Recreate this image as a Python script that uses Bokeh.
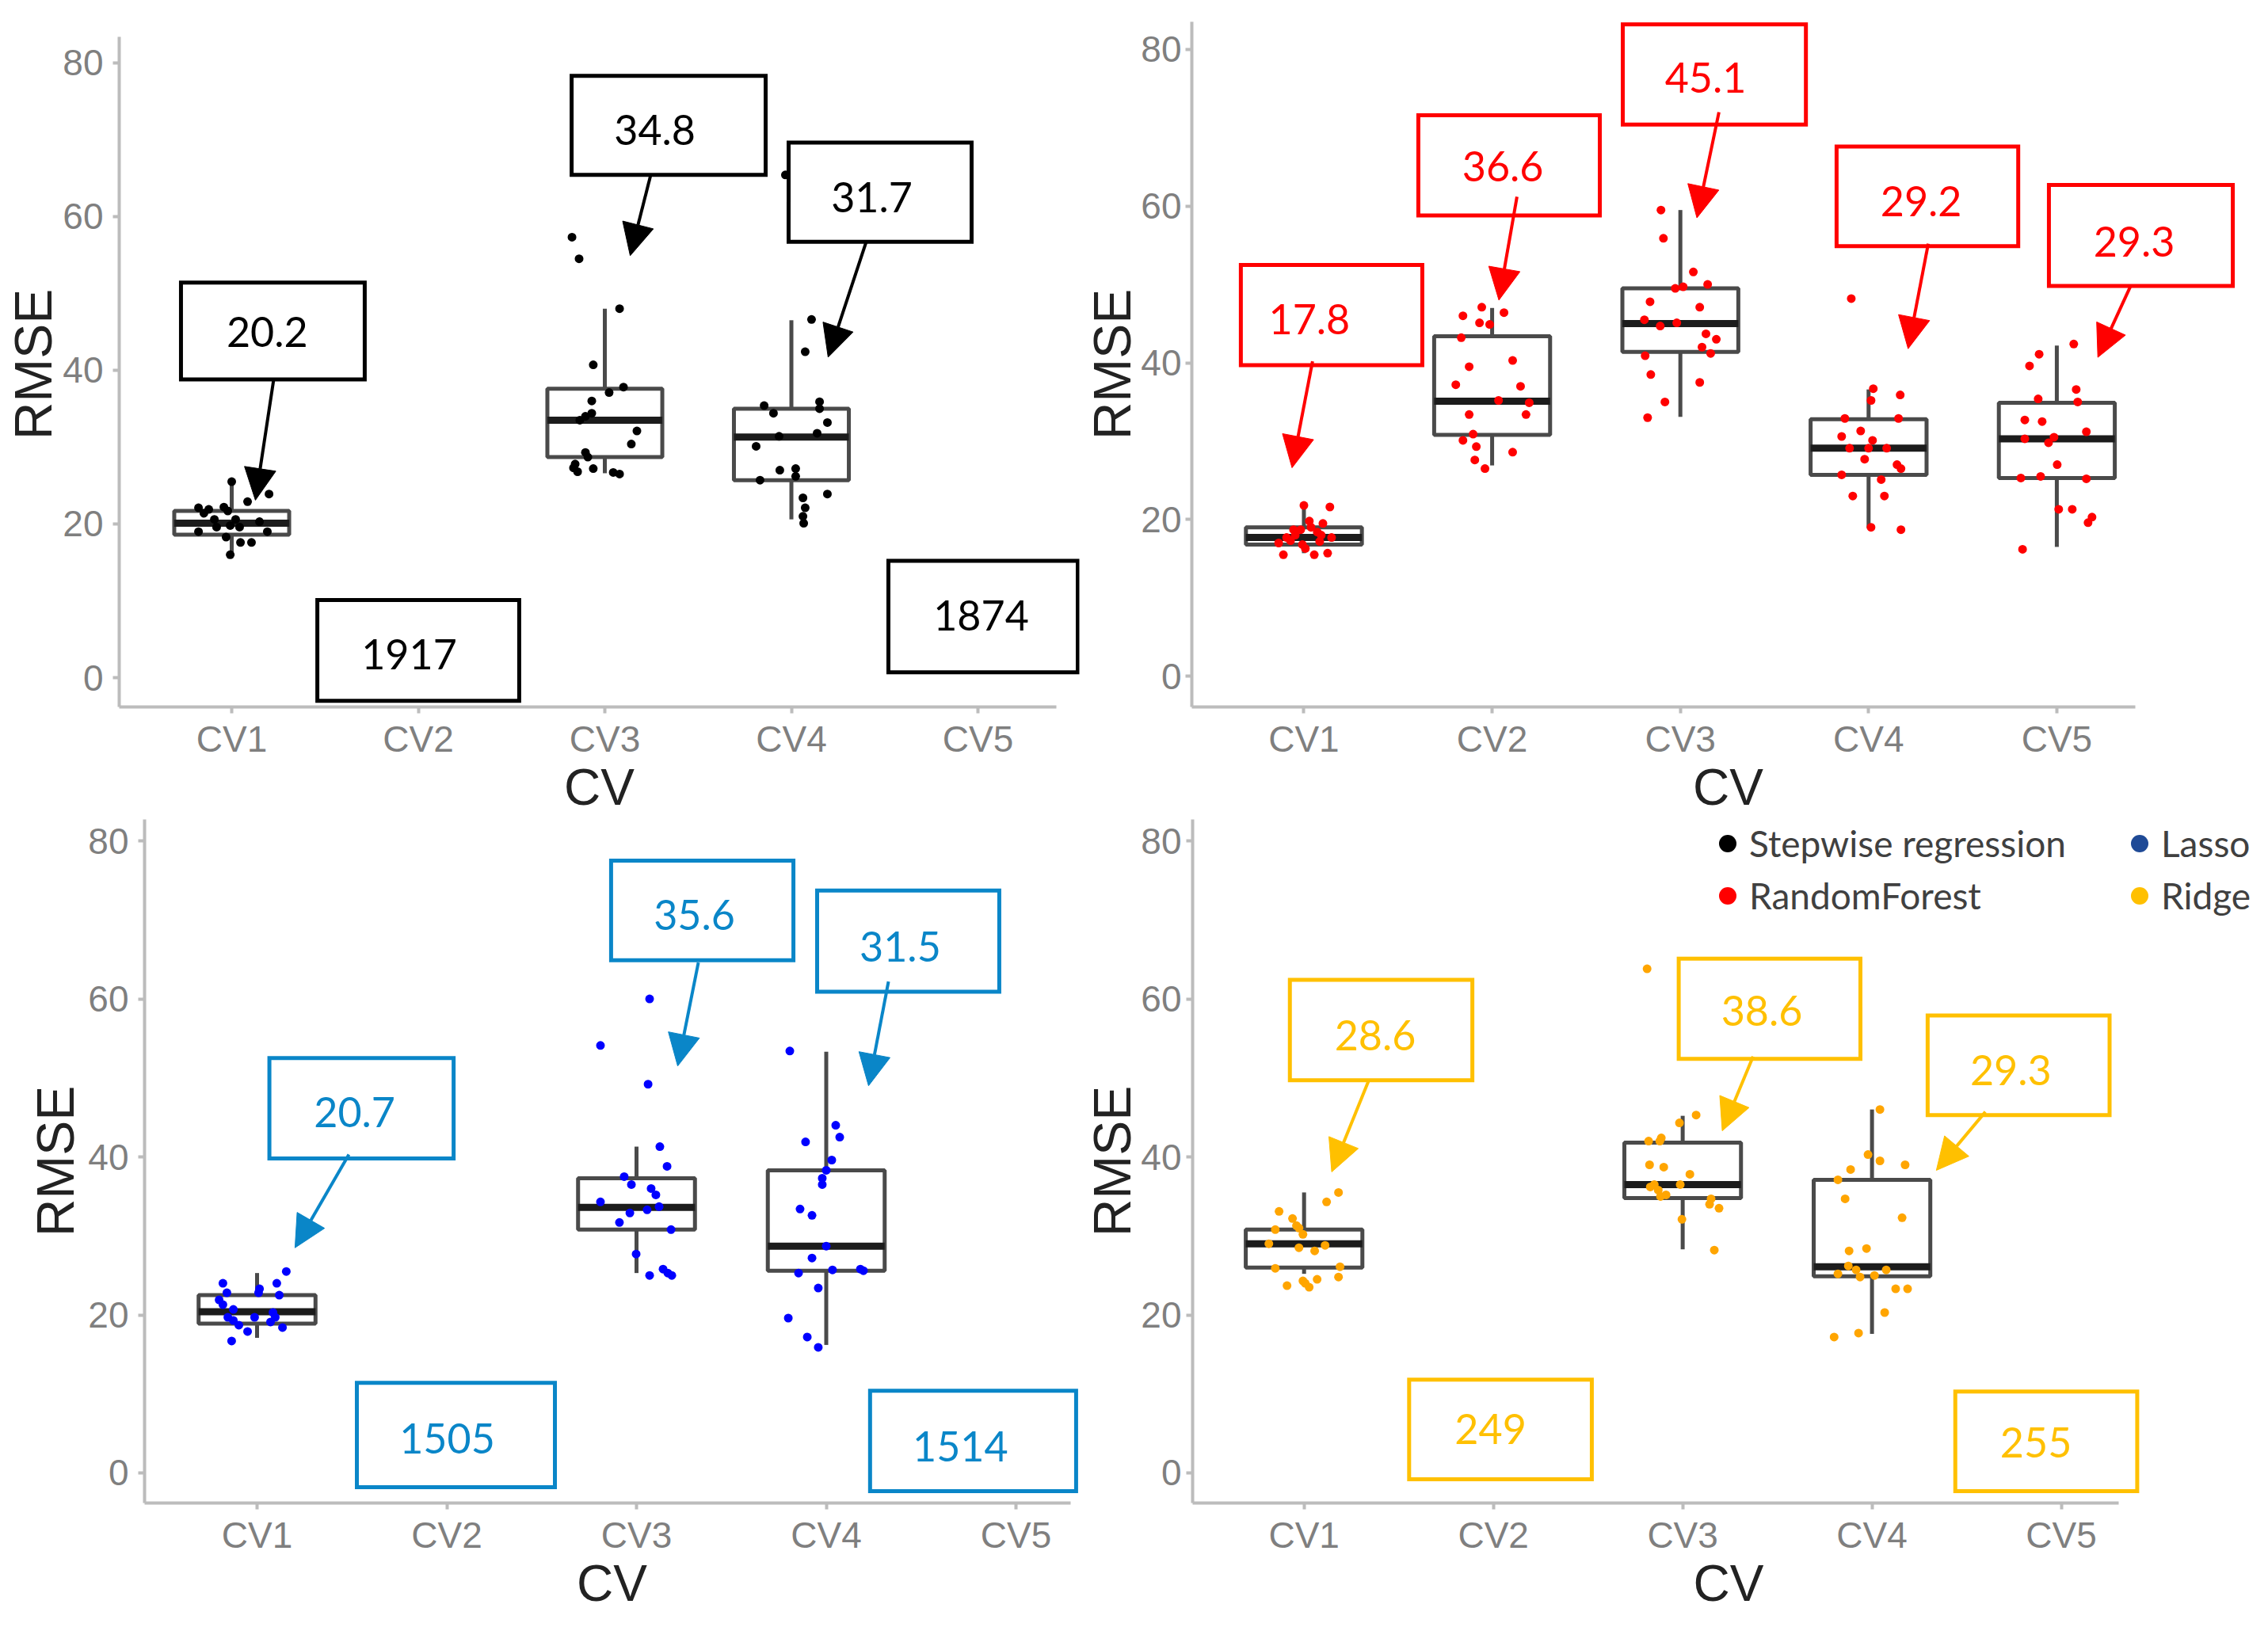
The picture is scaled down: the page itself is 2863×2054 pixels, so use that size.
from bokeh.plotting import figure
from bokeh.layouts import column, row
from bokeh.models import FixedTicker, Range1d, Arrow, NormalHead, Legend, LegendItem
from bokeh.embed import file_html
from bokeh.resources import INLINE
from bokeh.core.properties import value

# ======================= DATA =======================
CV_LABELS = ["CV1", "CV2", "CV3", "CV4", "CV5"]
RMSE_TICKS = [0, 20, 40, 60, 80]
MODEL_NAMES = ["Stepwise regression", "Lasso", "RandomForest", "Ridge"]

# --- Stepwise regression (top left) ---
SW_CV = [1, 3, 4]
SW_Q1 = [18.6, 28.7, 25.7]
SW_MEDIAN = [20.1, 33.5, 31.3]
SW_Q3 = [21.7, 37.6, 35.0]
SW_LO = [16.2, 26.6, 20.6]
SW_HI = [25.5, 48.0, 46.5]
SW_CV1_RMSE = [25.5, 23.9, 22.9, 22.1, 21.9, 22.2, 21.7, 21.4, 20.6, 20.6, 20.3, 19.6, 19.8, 19.6, 19.0, 19.0, 18.3, 17.6, 17.6, 16.0]
SW_CV1_JITTER = [0.0, 0.20, 0.085, -0.178, -0.123, -0.042, -0.021, -0.149, -0.093, 0.021, 0.149, -0.081, -0.008, 0.042, -0.178, 0.191, -0.03, 0.047, 0.106, -0.008]
SW_CV3_RMSE = [57.3, 54.5, 48.0, 40.7, 37.1, 37.8, 36.0, 34.4, 33.5, 32.1, 30.4, 29.3, 27.8, 26.8, 27.2, 26.7, 26.5, 28.7, 27.3, 34.0]
SW_CV3_JITTER = [-0.176, -0.138, 0.079, -0.062, 0.023, 0.1, -0.07, -0.07, -0.134, 0.172, 0.142, -0.104, -0.159, -0.146, -0.062, 0.045, 0.079, -0.091, -0.168, -0.104]
SW_CV4_RMSE = [65.4, 46.6, 42.4, 35.4, 34.4, 35.9, 35.0, 33.2, 31.8, 31.4, 30.1, 27.0, 27.2, 26.2, 25.7, 23.9, 23.4, 22.1, 21.0, 20.1]
SW_CV4_JITTER = [-0.032, 0.108, 0.074, -0.146, -0.096, 0.151, 0.151, 0.193, 0.138, -0.066, -0.189, -0.062, 0.023, 0.023, -0.168, 0.193, 0.062, 0.074, 0.062, 0.066]
SW_NOTES = ["20.2", "34.8", "31.7", "1917", "1874"]

# --- RandomForest (top right) ---
RF_CV = [1, 2, 3, 4, 5]
RF_Q1 = [16.8, 30.8, 41.4, 25.7, 25.3]
RF_MEDIAN = [17.7, 35.1, 45.0, 29.1, 30.3]
RF_Q3 = [19.0, 43.4, 49.5, 32.8, 34.9]
RF_LO = [15.7, 26.9, 33.1, 18.9, 16.5]
RF_HI = [21.6, 47.0, 59.5, 36.6, 42.2]
RF_CV1_RMSE = [21.8, 21.6, 19.8, 19.5, 18.7, 18.7, 18.4, 17.7, 17.7, 17.0, 16.8, 17.2, 15.5, 15.5, 15.7, 18.0, 19.0, 17.3, 18.0, 16.3]
RF_CV1_JITTER = [0.0, 0.138, 0.029, 0.101, -0.055, -0.017, 0.071, 0.147, -0.092, -0.134, -0.008, 0.084, -0.109, 0.055, 0.126, -0.046, 0.038, -0.071, 0.092, 0.008]
RF_CV2_RMSE = [46.0, 47.1, 46.4, 45.1, 44.9, 43.2, 40.3, 39.5, 37.2, 37.0, 35.2, 34.9, 33.4, 33.4, 30.9, 30.1, 29.3, 28.6, 27.6, 26.5]
RF_CV2_JITTER = [-0.155, -0.055, 0.063, -0.067, -0.013, -0.164, 0.109, -0.122, -0.193, 0.151, 0.034, 0.197, -0.122, 0.18, -0.101, -0.155, -0.084, 0.109, -0.092, -0.038]
RF_CV3_RMSE = [59.5, 55.9, 51.6, 50.0, 49.5, 49.7, 47.8, 47.1, 45.5, 44.7, 45.1, 43.7, 43.0, 42.0, 41.2, 40.9, 38.5, 37.5, 35.0, 33.0]
RF_CV3_JITTER = [-0.103, -0.09, 0.069, 0.145, -0.027, 0.015, -0.161, 0.103, -0.191, -0.107, -0.019, 0.136, 0.191, 0.115, 0.161, -0.187, -0.157, 0.103, -0.082, -0.174]
RF_CV4_RMSE = [48.2, 36.7, 35.2, 35.9, 32.9, 32.9, 30.6, 31.3, 30.1, 29.1, 29.1, 29.1, 27.7, 27.0, 26.5, 25.7, 25.1, 23.0, 23.0, 19.0, 18.7]
RF_CV4_JITTER = [-0.092, 0.025, 0.013, 0.168, -0.126, 0.159, -0.143, -0.042, 0.021, -0.101, 0.0, 0.096, -0.021, 0.151, 0.172, -0.143, 0.067, -0.084, 0.084, 0.013, 0.172]
RF_CV5_RMSE = [42.4, 41.1, 39.6, 36.6, 35.4, 35.0, 32.7, 32.5, 31.2, 30.3, 29.8, 30.5, 27.0, 25.3, 25.5, 25.2, 21.3, 21.3, 20.3, 19.6, 16.2]
RF_CV5_JITTER = [0.09, -0.094, -0.145, 0.103, -0.099, 0.111, -0.17, -0.078, 0.157, -0.17, -0.044, -0.015, 0.002, -0.191, -0.086, 0.157, 0.01, 0.082, 0.187, 0.166, -0.182]
RF_NOTES = ["17.8", "36.6", "45.1", "29.2", "29.3"]

# --- Lasso (bottom left) ---
LASSO_CV = [1, 3, 4]
LASSO_Q1 = [18.9, 30.8, 25.6]
LASSO_MEDIAN = [20.4, 33.6, 28.7]
LASSO_Q3 = [22.5, 37.3, 38.3]
LASSO_LO = [17.1, 25.3, 16.2]
LASSO_HI = [25.3, 41.3, 53.3]
LASSO_CV1_RMSE = [25.5, 24.0, 24.0, 23.3, 22.8, 22.5, 21.3, 20.7, 20.3, 19.7, 19.3, 19.7, 18.7, 18.4, 17.9, 16.7, 21.9, 19.1, 22.8, 19.7]
LASSO_CV1_JITTER = [0.154, -0.18, 0.104, 0.013, -0.159, 0.117, -0.18, -0.125, 0.084, -0.013, -0.125, 0.096, -0.096, 0.134, -0.05, -0.134, -0.2, 0.071, 0.008, -0.154]
LASSO_CV3_RMSE = [60.0, 54.1, 49.2, 41.3, 38.8, 37.5, 36.5, 36.0, 35.2, 34.3, 33.3, 33.7, 32.9, 31.7, 30.8, 27.7, 25.0, 25.8, 25.3, 25.0]
LASSO_CV3_JITTER = [0.069, -0.19, 0.061, 0.123, 0.161, -0.065, -0.027, 0.077, 0.102, -0.19, 0.056, 0.119, -0.035, -0.09, 0.182, -0.002, 0.069, 0.14, 0.165, 0.186]
LASSO_CV4_RMSE = [53.4, 44.0, 42.5, 41.9, 39.6, 38.3, 37.3, 36.5, 33.4, 32.6, 28.7, 27.2, 25.3, 25.7, 25.8, 25.6, 23.4, 19.6, 17.2, 15.9]
LASSO_CV4_JITTER = [-0.192, 0.05, 0.071, -0.109, 0.029, 0.0, -0.021, -0.021, -0.138, -0.075, 0.0, -0.075, -0.146, 0.033, 0.18, 0.196, -0.042, -0.2, -0.1, -0.042]
LASSO_NOTES = ["20.7", "35.6", "31.5", "1505", "1514"]

# --- Ridge (bottom right) ---
RIDGE_CV = [1, 3, 4]
RIDGE_Q1 = [26.0, 34.8, 24.9]
RIDGE_MEDIAN = [29.0, 36.5, 26.1]
RIDGE_Q3 = [30.8, 41.8, 37.1]
RIDGE_LO = [25.2, 28.3, 17.6]
RIDGE_HI = [35.5, 45.2, 46.0]
RIDGE_CV1_RMSE = [35.5, 34.3, 33.1, 32.2, 30.8, 31.0, 30.2, 29.0, 28.5, 28.1, 28.8, 25.9, 26.1, 24.8, 24.3, 24.5, 23.5, 23.7, 31.3, 24.0]
RIDGE_CV1_JITTER = [0.182, 0.119, -0.132, -0.061, -0.152, -0.027, -0.006, -0.186, -0.027, 0.056, 0.111, -0.152, 0.19, 0.182, -0.006, 0.069, 0.027, -0.09, -0.04, 0.006]
RIDGE_CV3_RMSE = [63.8, 45.3, 44.3, 42.0, 42.4, 39.0, 38.7, 37.8, 36.5, 36.5, 35.8, 35.0, 35.2, 34.7, 34.0, 33.5, 32.1, 28.2, 36.2, 42.0]
RIDGE_CV3_JITTER = [-0.188, 0.071, -0.017, -0.18, -0.113, -0.175, -0.1, 0.038, -0.013, -0.15, -0.129, -0.117, -0.088, 0.15, 0.142, 0.192, -0.004, 0.167, -0.171, -0.121]
RIDGE_CV4_RMSE = [46.0, 40.3, 39.5, 39.0, 38.4, 37.1, 34.7, 32.3, 28.1, 28.4, 26.2, 25.2, 25.7, 24.8, 25.0, 25.7, 23.3, 23.3, 20.3, 17.7, 17.2]
RIDGE_CV4_JITTER = [0.042, -0.021, 0.042, 0.175, -0.113, -0.18, -0.142, 0.159, -0.121, -0.029, -0.125, -0.18, -0.084, -0.063, 0.013, 0.075, 0.125, 0.188, 0.067, -0.071, -0.2]
RIDGE_NOTES = ["28.6", "38.6", "29.3", "249", "255"]

# ======================= LAYOUT / STYLE =======================
BOX_LINE = "#4a4a4a"
MEDIAN_LINE = "#1c1c1c"
AXIS_GREY = "#bcbcbc"
TICK_TEXT = "#7f7f7f"
TITLE_TEXT = "#222222"
BOX_HALF = 0.308
NAN = float("nan")

# annotation placement: text centre, box (l, r, b, t), arrow (x0, y0, x1, y1)
SW_NOTE_POS = [
    dict(tx=1.19, ty=45.0, box=(0.728, 1.713, 38.8, 51.4), arrow=(1.225, 38.8, 1.127, 23.1)),
    dict(tx=3.268, ty=71.3, box=(2.822, 3.862, 65.4, 78.3), arrow=(3.246, 65.4, 3.136, 54.9)),
    dict(tx=4.431, ty=62.5, box=(3.985, 4.966, 56.7, 69.6), arrow=(4.401, 56.7, 4.197, 41.7)),
    dict(tx=1.951, ty=3.1, box=(1.459, 2.541, -3.0, 10.1), arrow=None),
    dict(tx=5.017, ty=8.1, box=(4.520, 5.535, 0.7, 15.2), arrow=None),
]
RF_NOTE_POS = [
    dict(tx=1.029, ty=45.6, box=(0.665, 1.629, 39.7, 52.5), arrow=(1.046, 40.2, 0.937, 26.6)),
    dict(tx=2.057, ty=65.1, box=(1.608, 2.572, 58.8, 71.6), arrow=(2.132, 61.2, 2.036, 48.0)),
    dict(tx=3.134, ty=76.4, box=(2.694, 3.667, 70.4, 83.2), arrow=(3.205, 72.0, 3.088, 58.5)),
    dict(tx=4.279, ty=60.6, box=(3.830, 4.795, 54.9, 67.6), arrow=(4.317, 55.2, 4.21, 41.8)),
    dict(tx=5.411, ty=55.5, box=(4.958, 5.935, 49.8, 62.7), arrow=(5.39, 49.7, 5.218, 40.7)),
]
LASSO_NOTE_POS = [
    dict(tx=1.514, ty=45.7, box=(1.065, 2.036, 39.8, 52.5), arrow=(1.484, 40.3, 1.2, 28.5)),
    dict(tx=3.305, ty=70.6, box=(2.866, 3.827, 64.9, 77.5), arrow=(3.326, 64.6, 3.217, 51.5)),
    dict(tx=4.39, ty=66.6, box=(3.952, 4.912, 60.9, 73.7), arrow=(4.328, 62.2, 4.223, 49.0)),
    dict(tx=2.002, ty=4.4, box=(1.526, 2.57, -1.8, 11.4), arrow=None),
    dict(tx=4.707, ty=3.4, box=(4.231, 5.317, -2.3, 10.4), arrow=None),
]
RIDGE_NOTE_POS = [
    dict(tx=1.376, ty=55.4, box=(0.925, 1.889, 49.7, 62.4), arrow=(1.342, 49.7, 1.146, 38.1)),
    dict(tx=3.418, ty=58.5, box=(2.979, 3.939, 52.4, 65.1), arrow=(3.372, 52.7, 3.209, 43.3)),
    dict(tx=4.733, ty=51.0, box=(4.294, 5.255, 45.3, 57.9), arrow=(4.599, 45.7, 4.34, 38.3)),
    dict(tx=1.985, ty=5.6, box=(1.555, 2.52, -0.8, 11.8), arrow=None),
    dict(tx=4.866, ty=3.9, box=(4.44, 5.401, -2.3, 10.3), arrow=None),
]


def make_panel(width, height, borders, ystand, xr, yr, xbounds, ybounds, point_color, note_color,
               cv, q1, med, q3, lo, hi, groups, notes, note_pos):
    bl, br, bt, bb = borders
    p = figure(width=width, height=height, x_range=Range1d(*xr), y_range=Range1d(*yr),
               output_backend="svg", toolbar_location=None,
               min_border_left=bl, min_border_right=br, min_border_top=bt, min_border_bottom=bb)
    p.outline_line_color = None
    p.xgrid.visible = False
    p.ygrid.visible = False
    p.background_fill_color = "white"
    p.border_fill_color = "white"

    xa = p.xaxis[0]
    ya = p.yaxis[0]
    xa.ticker = FixedTicker(ticks=[1, 2, 3, 4, 5])
    xa.major_label_overrides = {i + 1: lab for i, lab in enumerate(CV_LABELS)}
    xa.bounds = xbounds
    if ybounds is not None:
        ya.bounds = ybounds
    ya.ticker = FixedTicker(ticks=RMSE_TICKS)
    xa.axis_label = "CV"
    ya.axis_label = "RMSE"
    for ax in (xa, ya):
        ax.axis_line_color = AXIS_GREY
        ax.axis_line_width = 4
        ax.major_tick_line_color = AXIS_GREY
        ax.major_tick_line_width = 4
        ax.major_tick_in = 0
        ax.major_tick_out = 8
        ax.minor_tick_line_color = None
        ax.major_label_text_font = "Liberation Sans"
        ax.major_label_text_font_size = "46px"
        ax.major_label_text_color = TICK_TEXT
        ax.axis_label_text_font = "Liberation Sans"
        ax.axis_label_text_font_style = "normal"
        ax.axis_label_text_color = TITLE_TEXT
    xa.major_label_standoff = 6
    xa.axis_label_standoff = -4
    ya.major_label_standoff = ystand[0]
    ya.axis_label_standoff = ystand[1]
    xa.axis_label_text_font_size = "64px"
    ya.axis_label_text_font_size = "66px"

    # boxplots
    lefts = [c - BOX_HALF for c in cv]
    rights = [c + BOX_HALF for c in cv]
    p.segment(x0=cv, y0=q3, x1=cv, y1=hi, line_color=BOX_LINE, line_width=5)
    p.segment(x0=cv, y0=q1, x1=cv, y1=lo, line_color=BOX_LINE, line_width=5)
    p.quad(left=lefts, right=rights, bottom=q1, top=q3, fill_color=None,
           line_color=BOX_LINE, line_width=5)
    p.segment(x0=lefts, y0=med, x1=rights, y1=med, line_color=MEDIAN_LINE, line_width=9)

    # jittered points
    for c, rmse, jit in groups:
        p.scatter(x=[c + j for j in jit], y=rmse, size=11, fill_color=point_color,
                  line_color=None)

    # annotations
    for text, pos in zip(notes, note_pos):
        l, r, b, t = pos["box"]
        p.quad(left=[l], right=[r], bottom=[b], top=[t], fill_color=None,
               line_color=note_color, line_width=5, line_join="miter")
        p.text(x=[pos["tx"]], y=[pos["ty"]], text=[text], text_font=value("Lato"),
               text_font_size="52px", text_color=note_color, text_align="center",
               text_baseline="middle")
        if pos["arrow"] is not None:
            x0, y0, x1, y1 = pos["arrow"]
            p.add_layout(Arrow(x_start=x0, y_start=y0, x_end=x1, y_end=y1,
                               line_color=note_color, line_width=4,
                               end=NormalHead(size=40, fill_color=note_color,
                                              line_color=note_color, line_width=1)))
    return p


tl = make_panel(1364, 1032, (150, 2, 27, 137), (12, -3), (0.397, 5.5435), (-3.80, 85.32),
                (0.397, 5.42), (-3.80, 83.37),
                "#000000", "#000000", SW_CV, SW_Q1, SW_MEDIAN, SW_Q3, SW_LO, SW_HI,
                [(1, SW_CV1_RMSE, SW_CV1_JITTER), (3, SW_CV3_RMSE, SW_CV3_JITTER),
                 (4, SW_CV4_RMSE, SW_CV4_JITTER)], SW_NOTES, SW_NOTE_POS)

tr = make_panel(1499, 1032, (135, 5, 27, 137), (5, -4), (0.4046, 6.103), (-3.93, 83.53),
                (0.4046, 5.419), None,
                "#ff0000", "#ff0000", RF_CV, RF_Q1, RF_MEDIAN, RF_Q3, RF_LO, RF_HI,
                [(1, RF_CV1_RMSE, RF_CV1_JITTER), (2, RF_CV2_RMSE, RF_CV2_JITTER),
                 (3, RF_CV3_RMSE, RF_CV3_JITTER), (4, RF_CV4_RMSE, RF_CV4_JITTER),
                 (5, RF_CV5_RMSE, RF_CV5_JITTER)], RF_NOTES, RF_NOTE_POS)

bl = make_panel(1364, 1022, (182, 2, 2, 157), (12, 1), (0.4071, 5.334), (-3.81, 82.71),
                (0.4071, 5.288), None,
                "#0000ff", "#0a86c8", LASSO_CV, LASSO_Q1, LASSO_MEDIAN, LASSO_Q3, LASSO_LO, LASSO_HI,
                [(1, LASSO_CV1_RMSE, LASSO_CV1_JITTER), (3, LASSO_CV3_RMSE, LASSO_CV3_JITTER),
                 (4, LASSO_CV4_RMSE, LASSO_CV4_JITTER)], LASSO_NOTES, LASSO_NOTE_POS)

brp = make_panel(1499, 1022, (138, 5, 2, 157), (6, -4), (0.4113, 6.073), (-3.81, 82.71),
                 (0.4113, 5.305), None,
                 "#ffa500", "#ffc000", RIDGE_CV, RIDGE_Q1, RIDGE_MEDIAN, RIDGE_Q3, RIDGE_LO, RIDGE_HI,
                 [(1, RIDGE_CV1_RMSE, RIDGE_CV1_JITTER), (3, RIDGE_CV3_RMSE, RIDGE_CV3_JITTER),
                  (4, RIDGE_CV4_RMSE, RIDGE_CV4_JITTER)], RIDGE_NOTES, RIDGE_NOTE_POS)

# legend (in bottom-right panel); proxies hold a single NaN so they draw nothing in the plot
LEGEND_COLORS = {"Stepwise regression": "#000000", "Lasso": "#1f4a96",
                 "RandomForest": "#ff0000", "Ridge": "#ffc000"}
leg_r = {}
for name in MODEL_NAMES:
    leg_r[name] = brp.scatter(x=[NAN], y=[NAN], size=22, fill_color=LEGEND_COLORS[name],
                              line_color=None)


def make_legend(names, loc):
    return Legend(items=[LegendItem(label=n, renderers=[leg_r[n]]) for n in names],
                  location=loc, orientation="vertical", border_line_color=None,
                  background_fill_alpha=0, padding=0, margin=0, spacing=11,
                  glyph_width=55, glyph_height=55, label_standoff=-6,
                  label_text_font="Lato", label_text_font_size="46px",
                  label_text_color="#404040")


brp.add_layout(make_legend(["Stepwise regression", "RandomForest"], (648, 739)))
brp.add_layout(make_legend(["Lasso", "Ridge"], (1168, 739)))

layout = column(row(tl, tr), row(bl, brp))
open("out.html", "w").write(file_html(layout, INLINE))
